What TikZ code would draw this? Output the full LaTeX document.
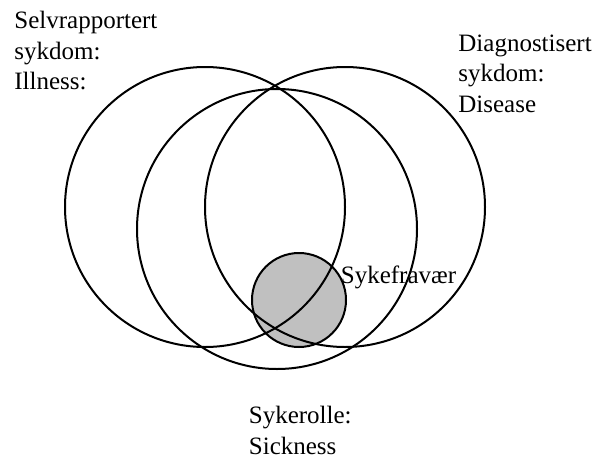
\documentclass[tikz,border=0pt]{standalone}
\usepackage{fontspec}
\setmainfont{Liberation Serif}
\usetikzlibrary{positioning}

\definecolor{absencegray}{RGB}{192,192,192}

\begin{document}
\begin{tikzpicture}[
    x=0.5pt, y=-0.5pt,
    font=\fontsize{12.5pt}{15.25pt}\selectfont,
    ring/.style      = {draw=black, line width=1pt},
    absence/.style   = {draw=black, line width=1pt, fill=absencegray},
    setlabel/.style  = {anchor=base west, inner sep=0pt, align=left}
  ]

\useasboundingbox (0,0) rectangle (600,461);

% =========================================================
% Circle centres (pixel grid of the figure, y downwards)
% =========================================================
\coordinate (illness-c)  at (205,207);
\coordinate (disease-c)  at (345,207);
\coordinate (sickness-c) at (277,229);
\coordinate (absence-c)  at (299,300);

% grey disc first, so the big rings run over it
\draw[absence] (absence-c) circle (47);

\draw[ring] (illness-c)  circle (140);
\draw[ring] (disease-c)  circle (140);
\draw[ring] (sickness-c) circle (140);

% =========================================================
% Labels (base = baseline of the last line)
% =========================================================
\node[setlabel] (illness)  at (14,89.5)   {Selvrapportert\\sykdom:\\Illness:};
\node[setlabel] (disease)  at (458,112)   {Diagnostisert\\sykdom:\\Disease};
\node[setlabel] (absence)  at (340.5,283.5) {Sykefravær};
\node[setlabel] (sickness) at (248.5,454) {Sykerolle:\\Sickness};

\end{tikzpicture}
\end{document}
